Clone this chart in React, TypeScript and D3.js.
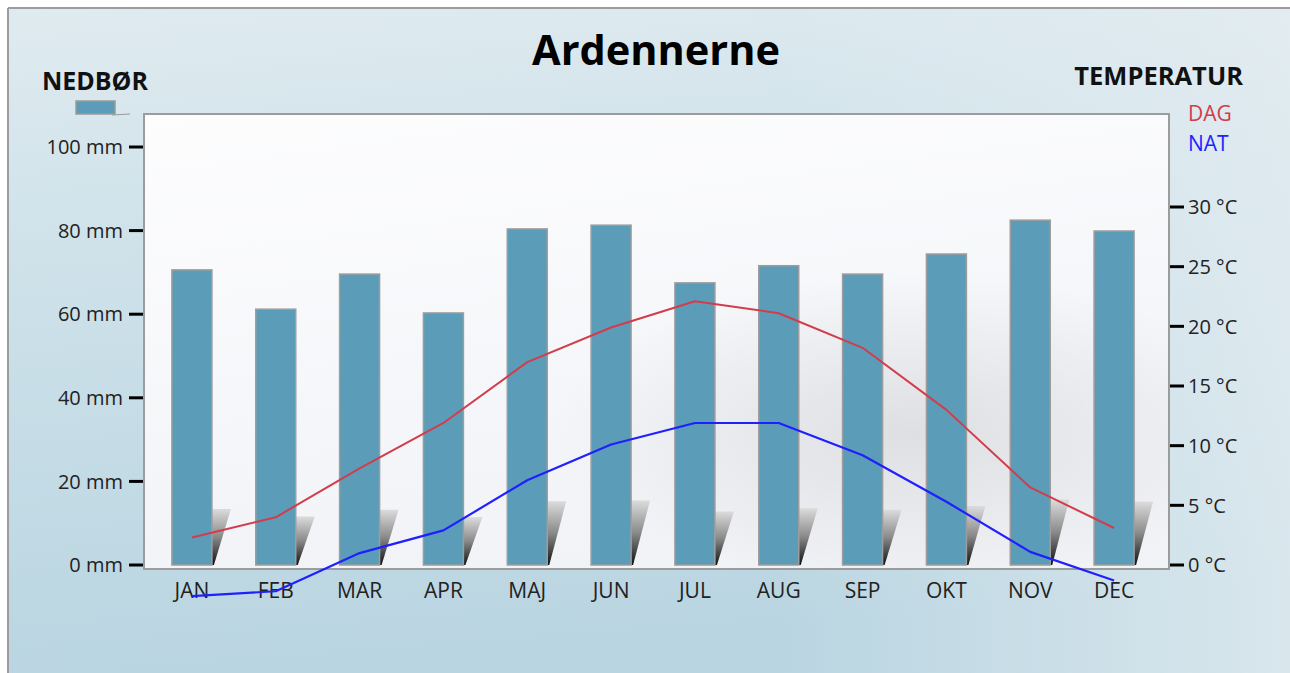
import React from "react";
import * as d3 from "d3";

const months = ["JAN", "FEB", "MAR", "APR", "MAJ", "JUN", "JUL", "AUG", "SEP", "OKT", "NOV", "DEC"];
const precipitation = [70.6, 61.2, 69.6, 60.3, 80.4, 81.3, 67.5, 71.6, 69.6, 74.4, 82.5, 79.9];
const dayTemp = [2.3, 4.0, 8.1, 11.9, 17.0, 19.9, 22.1, 21.1, 18.2, 13.0, 6.5, 3.1];
const nightTemp = [-2.6, -2.2, 1.0, 2.9, 7.1, 10.1, 11.9, 11.9, 9.2, 5.3, 1.1, -1.3];
const mmTicks = [0, 20, 40, 60, 80, 100];
const tempTicks = [0, 5, 10, 15, 20, 25, 30];

const W = 1290;
const H = 673;
const plot = { left: 144, right: 1169, top: 114, bottom: 569 };
const FONT = "'Open Sans', 'DejaVu Sans', sans-serif";

export default function App() {
  const x = d3.scaleBand<string>().domain(months).range([150, 1156]).paddingInner(0).paddingOuter(0);
  const yL = d3.scaleLinear().domain([0, 100]).range([565, 147]);
  const yR = d3.scaleLinear().domain([0, 30]).range([565, 207]);
  const barW = 40;
  const cx = (m: string) => (x(m) as number) + x.bandwidth() / 2;

  const line = d3
    .line<number>()
    .x((_, i) => cx(months[i]))
    .y((d) => yR(d))
    .curve(d3.curveLinear);

  return (
    <svg
      width={W}
      height={H}
      style={{ position: "absolute", left: 0, top: 0 }}
      xmlns="http://www.w3.org/2000/svg"
    >
      <defs>
        <linearGradient id="bg" x1="0" y1="0" x2="0.15" y2="1">
          <stop offset="0" stopColor="#e0ebf0" />
          <stop offset="0.35" stopColor="#cfe2ea" />
          <stop offset="1" stopColor="#b9d5e1" />
        </linearGradient>
        <linearGradient id="bgr" x1="1" y1="0" x2="0" y2="0">
          <stop offset="0" stopColor="#e6eef2" stopOpacity="0.7" />
          <stop offset="0.4" stopColor="#e6eef2" stopOpacity="0" />
        </linearGradient>
        <linearGradient id="plotbg" x1="0" y1="0" x2="0.3" y2="1">
          <stop offset="0" stopColor="#fdfdfe" />
          <stop offset="1" stopColor="#f1f3f7" />
        </linearGradient>
        <radialGradient id="plotspot" cx="0.75" cy="0.7" r="0.35">
          <stop offset="0" stopColor="#d8dade" stopOpacity="0.8" />
          <stop offset="1" stopColor="#d8dade" stopOpacity="0" />
        </radialGradient>
        <linearGradient id="shadow" x1="0" y1="0" x2="0" y2="1">
          <stop offset="0" stopColor="#dcdcdc" />
          <stop offset="0.5" stopColor="#8a8a8a" />
          <stop offset="1" stopColor="#111111" />
        </linearGradient>
      </defs>

      <rect x={0} y={0} width={W} height={H} fill="#ffffff" />
      <rect x={8} y={8} width={W - 8} height={H - 8} fill="url(#bg)" />
      <rect x={8} y={8} width={W - 8} height={H - 8} fill="url(#bgr)" />
      <line x1={8} y1={8} x2={W} y2={8} stroke="#9c9c9c" strokeWidth={2} />
      <line x1={8} y1={8} x2={8} y2={H} stroke="#9c9c9c" strokeWidth={2} />

      {/* Title */}
      <text x={656} y={65} textAnchor="middle" fontFamily={FONT} fontWeight={700} fontSize={41.5} fill="#000">
        Ardennerne
      </text>

      {/* Left legend */}
      <text x={95} y={90} textAnchor="middle" fontFamily={FONT} fontWeight={700} fontSize={25} fill="#111">
        NEDBØR
      </text>
      <line x1={112} y1={115} x2={130} y2={114} stroke="#9a9a9a" strokeWidth={1} />
      <rect x={76} y={101} width={39} height={13} fill="#5b9db8" stroke="#9a9a9a" strokeWidth={1.5} />

      {/* Right legend */}
      <text x={1243} y={85} textAnchor="end" fontFamily={FONT} fontWeight={700} fontSize={25.5} fill="#111">
        TEMPERATUR
      </text>
      <text x={1188} y={121} fontFamily={FONT} fontSize={21} fill="#d23c4b">
        DAG
      </text>
      <text x={1188} y={151} fontFamily={FONT} fontSize={21} fill="#2222ff">
        NAT
      </text>

      {/* Plot area */}
      <rect
        x={plot.left}
        y={plot.top}
        width={plot.right - plot.left}
        height={plot.bottom - plot.top}
        fill="url(#plotbg)"
      />
      <rect
        x={plot.left}
        y={plot.top}
        width={plot.right - plot.left}
        height={plot.bottom - plot.top}
        fill="url(#plotspot)"
        stroke="#9c9c9c"
        strokeWidth={2}
      />

      {/* Left axis ticks */}
      {mmTicks.map((t) => (
        <g key={"l" + t}>
          <line x1={129} x2={143} y1={yL(t)} y2={yL(t)} stroke="#000" strokeWidth={3} />
          <text
            x={123}
            y={yL(t)}
            dy="0.36em"
            textAnchor="end"
            fontFamily={FONT}
            fontSize={20}
            fill="#222"
          >
            {`${t} mm`}
          </text>
        </g>
      ))}

      {/* Right axis ticks */}
      {tempTicks.map((t) => (
        <g key={"r" + t}>
          <line x1={1170} x2={1184} y1={yR(t)} y2={yR(t)} stroke="#000" strokeWidth={3} />
          <text x={1188} y={yR(t)} dy="0.36em" fontFamily={FONT} fontSize={20} fill="#222">
            {`${t} °C`}
          </text>
        </g>
      ))}

      {/* Bars with shadows */}
      {months.map((m, i) => {
        const v = precipitation[i];
        const top = yL(v);
        const base = yL(0);
        const left = cx(m) - barW / 2;
        const right = cx(m) + barW / 2;
        const sh = (base - top) * 0.19;
        const shadowPath = `M${right},${base - sh} L${right + 19},${base - sh} L${right + 2},${base} L${right},${base} Z`;
        return (
          <g key={m}>
            <path d={shadowPath} fill="url(#shadow)" />
            <rect
              x={left}
              y={top}
              width={barW}
              height={base - top}
              fill="#5b9db8"
              stroke="#9d9d9d"
              strokeWidth={1.5}
            />
          </g>
        );
      })}

      {/* Month labels */}
      {months.map((m) => (
        <text
          key={"t" + m}
          x={cx(m)}
          y={598}
          textAnchor="middle"
          fontFamily={FONT}
          fontSize={21}
          fill="#222"
        >
          {m}
        </text>
      ))}

      {/* Temperature lines */}
      <path d={line(dayTemp) || ""} fill="none" stroke="#d23c4b" strokeWidth={2} strokeLinejoin="round" />
      <path d={line(nightTemp) || ""} fill="none" stroke="#1f1fff" strokeWidth={2.2} strokeLinejoin="round" />
    </svg>
  );
}
